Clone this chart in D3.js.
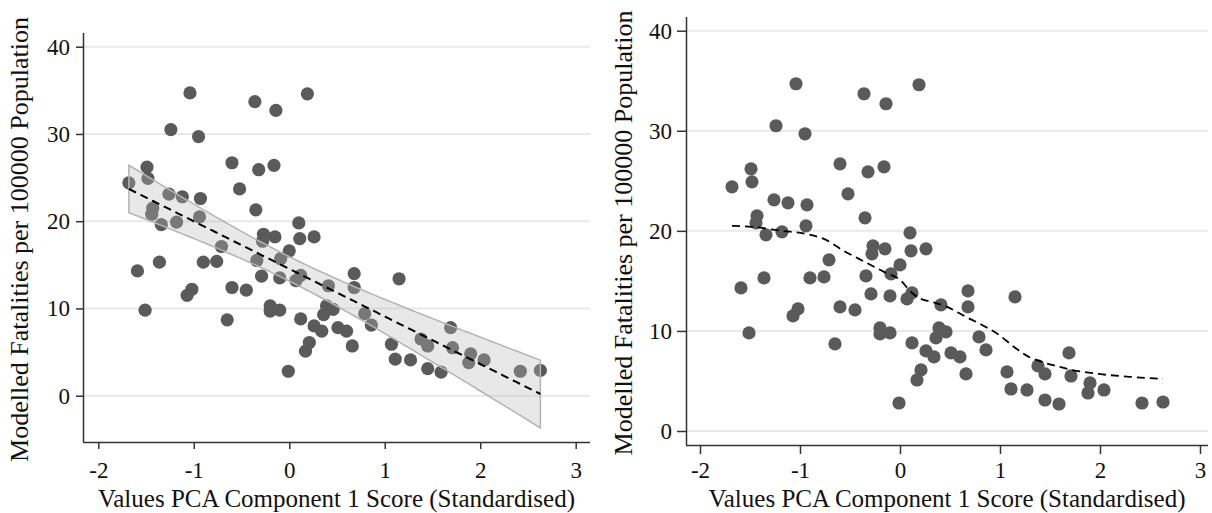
<!DOCTYPE html>
<html>
<head>
<meta charset="utf-8">
<script src="https://cdn.jsdelivr.net/npm/d3@7"></script>
<style>
  body { margin: 0; background: #fff; }
  svg text { font-family: "Liberation Serif", "Times New Roman", serif; fill: #111; }
</style>
</head>
<body>
<div id="chart"></div>
<script>
// PCA component 1 score (standardised)
const pcaScore = [
  -1.04, -0.36, 0.19, -0.14, -1.24, -0.95, -1.49, -1.48, -1.68, -0.60,
  -0.32, -0.16, -0.52, -1.26, -1.12, -0.93, -0.35, -1.43, -1.44, -1.34,
  -1.18, -0.94, 0.10, -0.27, -0.15, 0.11, 0.26, -0.28, -0.71, 0.00,
  -1.59, -1.36, -0.90, -0.76, -0.34, -0.09, -0.29, -0.10, 0.07, 0.12,
  0.41, -1.02, -1.07, -0.60, -0.45, -1.51, -0.20, -0.20, -0.10, 0.39,
  0.46, 0.36, -0.65, 0.12, 0.26, 0.34, 0.51, 0.60, 0.21, 0.17,
  -0.01, 0.68, 0.68, 1.15, 0.79, 0.86, 0.66, 1.07, 1.11, 1.27,
  1.38, 1.45, 1.45, 1.59, 1.69, 1.71, 1.90, 1.88, 2.04, 2.42, 2.63
];
// modelled fatalities per 100000 population
const fatalities = [
  34.7, 33.7, 34.6, 32.7, 30.5, 29.7, 26.2, 24.9, 24.4, 26.7,
  25.9, 26.4, 23.7, 23.1, 22.8, 22.6, 21.3, 21.5, 20.8, 19.6,
  19.9, 20.5, 19.8, 18.5, 18.2, 18.0, 18.2, 17.7, 17.1, 16.6,
  14.3, 15.3, 15.3, 15.4, 15.5, 15.7, 13.7, 13.5, 13.2, 13.8,
  12.6, 12.2, 11.5, 12.4, 12.1, 9.8, 10.3, 9.7, 9.8, 10.3,
  9.9, 9.3, 8.7, 8.8, 8.0, 7.4, 7.8, 7.4, 6.1, 5.1,
  2.8, 14.0, 12.4, 13.4, 9.4, 8.1, 5.7, 5.9, 4.2, 4.1,
  6.5, 5.7, 3.1, 2.7, 7.8, 5.5, 4.8, 3.8, 4.1, 2.8, 2.9
];
// lowess smoother as drawn in the right panel
const lowessX = [-1.68, -1.48, -1.18, -0.94, -0.74, -0.58, -0.41, -0.14, 0.00, 0.12,
  0.19, 0.32, 0.47, 0.66, 0.82, 0.99, 1.14, 1.29, 1.39, 1.56, 1.72, 1.99, 2.32, 2.63];
const lowessY = [20.5, 20.4, 20.0, 19.7, 19.1, 18.1, 17.2, 15.8, 15.1, 13.8,
  13.3, 12.9, 12.4, 11.4, 10.6, 9.6, 8.4, 7.4, 7.0, 6.5, 6.1, 5.7, 5.4, 5.2];

const xTicks = [-2, -1, 0, 1, 2, 3];
const yTicks = [0, 10, 20, 30, 40];
const xTitle = "Values PCA Component 1 Score (Standardised)";
const yTitle = "Modelled Fatalities per 100000 Population";

const points = pcaScore.map((x, i) => ({x: x, y: fatalities[i]}));

const W = 1212, H = 513;
const svg = d3.select("#chart").append("svg")
  .attr("width", W).attr("height", H);

// linear fit with 95% CI (like lfitci)
function linearFit(pts) {
  const n = pts.length;
  const mx = d3.mean(pts, d => d.x), my = d3.mean(pts, d => d.y);
  const sxx = d3.sum(pts, d => (d.x - mx) * (d.x - mx));
  const sxy = d3.sum(pts, d => (d.x - mx) * (d.y - my));
  const b = sxy / sxx, a = my - b * mx;
  const sse = d3.sum(pts, d => Math.pow(d.y - a - b * d.x, 2));
  const s = Math.sqrt(sse / (n - 2));
  const t = 1.990;
  const lo = d3.min(pts, d => d.x), hi = d3.max(pts, d => d.x);
  const grid = d3.range(0, 101).map(i => lo + (hi - lo) * i / 100);
  return grid.map(x => {
    const fit = a + b * x;
    const se = s * Math.sqrt(1 / n + (x - mx) * (x - mx) / sxx);
    return {x: x, fit: fit, lo: fit - t * se, hi: fit + t * se};
  });
}

function panel(p) {
  const x = d3.scaleLinear().domain([-2, 3]).range([p.x0, p.x3]);
  const y = d3.scaleLinear().domain([0, 40]).range([p.y0, p.y40]);
  const g = svg.append("g");

  // grid
  g.selectAll(".grid")
    .data(yTicks)
    .enter().append("line")
      .attr("x1", p.left).attr("x2", p.right)
      .attr("y1", d => y(d)).attr("y2", d => y(d))
      .style("stroke", "#e9e9e9").style("stroke-width", 2);

  g.selectAll(".dot")
    .data(points)
    .enter().append("circle")
      .attr("cx", d => x(d.x))
      .attr("cy", d => y(d.y))
      .attr("r", 6.6)
      .style("fill", "#5a5a5a");

  if (p.fit) {
    const fit = linearFit(points);
    const band = d3.area()
      .x(d => x(d.x)).y0(d => y(d.lo)).y1(d => y(d.hi));
    g.append("path")
      .attr("d", band(fit))
      .style("fill", "rgb(182,182,182)").style("fill-opacity", 0.32)
      .style("stroke", "#b4b4b4").style("stroke-width", 1.5);
    g.append("path")
      .attr("d", d3.line().x(d => x(d.x)).y(d => y(d.fit))(fit))
      .style("fill", "none").style("stroke", "#000")
      .style("stroke-width", 2).style("stroke-dasharray", "8,5");
  } else {
    const lw = lowessX.map((v, i) => ({x: v, y: lowessY[i]}));
    g.append("path")
      .attr("d", d3.line().curve(d3.curveMonotoneX).x(d => x(d.x)).y(d => y(d.y))(lw))
      .style("fill", "none").style("stroke", "#000")
      .style("stroke-width", 1.8).style("stroke-dasharray", "8,5");
  }

  // axes
  const fmt = d => String(d);
  const xAxis = g.append("g")
    .attr("transform", "translate(0," + p.bottom + ")")
    .call(d3.axisBottom(x).tickValues(xTicks).tickFormat(fmt)
      .tickSize(p.tick).tickPadding(p.xpad).tickSizeOuter(0));
  xAxis.select(".domain").attr("d", "M" + p.left + ",0.5H" + p.right);
  const yAxis = g.append("g")
    .attr("transform", "translate(" + p.left + ",0)")
    .call(d3.axisLeft(y).tickValues(yTicks).tickFormat(fmt)
      .tickSize(p.tick).tickPadding(p.ypad).tickSizeOuter(0));
  yAxis.select(".domain").attr("d", "M0.5," + p.top + "V" + p.bottom);
  g.selectAll(".domain").style("stroke", "#333").style("stroke-width", 1.5);
  g.selectAll(".tick line").style("stroke", "#333").style("stroke-width", 1.5);
  g.selectAll(".tick text")
    .style("font-family", "'Liberation Serif', serif")
    .style("font-size", "23px").style("fill", "#111");

  g.append("text")
    .attr("x", (p.left + p.right) / 2).attr("y", 507)
    .attr("text-anchor", "middle")
    .style("font-size", "25px")
    .text(xTitle);
  g.append("text")
    .attr("transform", "translate(" + p.ytx + "," + ((p.top + p.bottom) / 2 + 2) + ") rotate(-90)")
    .attr("text-anchor", "middle")
    .style("font-size", "26px")
    .text(yTitle);
}

panel({left: 83, right: 590, top: 33, bottom: 442,
       x0: 98.3, x3: 575.7, y0: 395.7, y40: 46.7, tick: 7, xpad: 12.5, ypad: 6, ytx: 28, fit: true});
panel({left: 686, right: 1208, top: 17, bottom: 445,
       x0: 700, x3: 1200, y0: 431, y40: 30.7, tick: 9, xpad: 7.5, ypad: 5, ytx: 632, fit: false});
</script>
</body>
</html>
